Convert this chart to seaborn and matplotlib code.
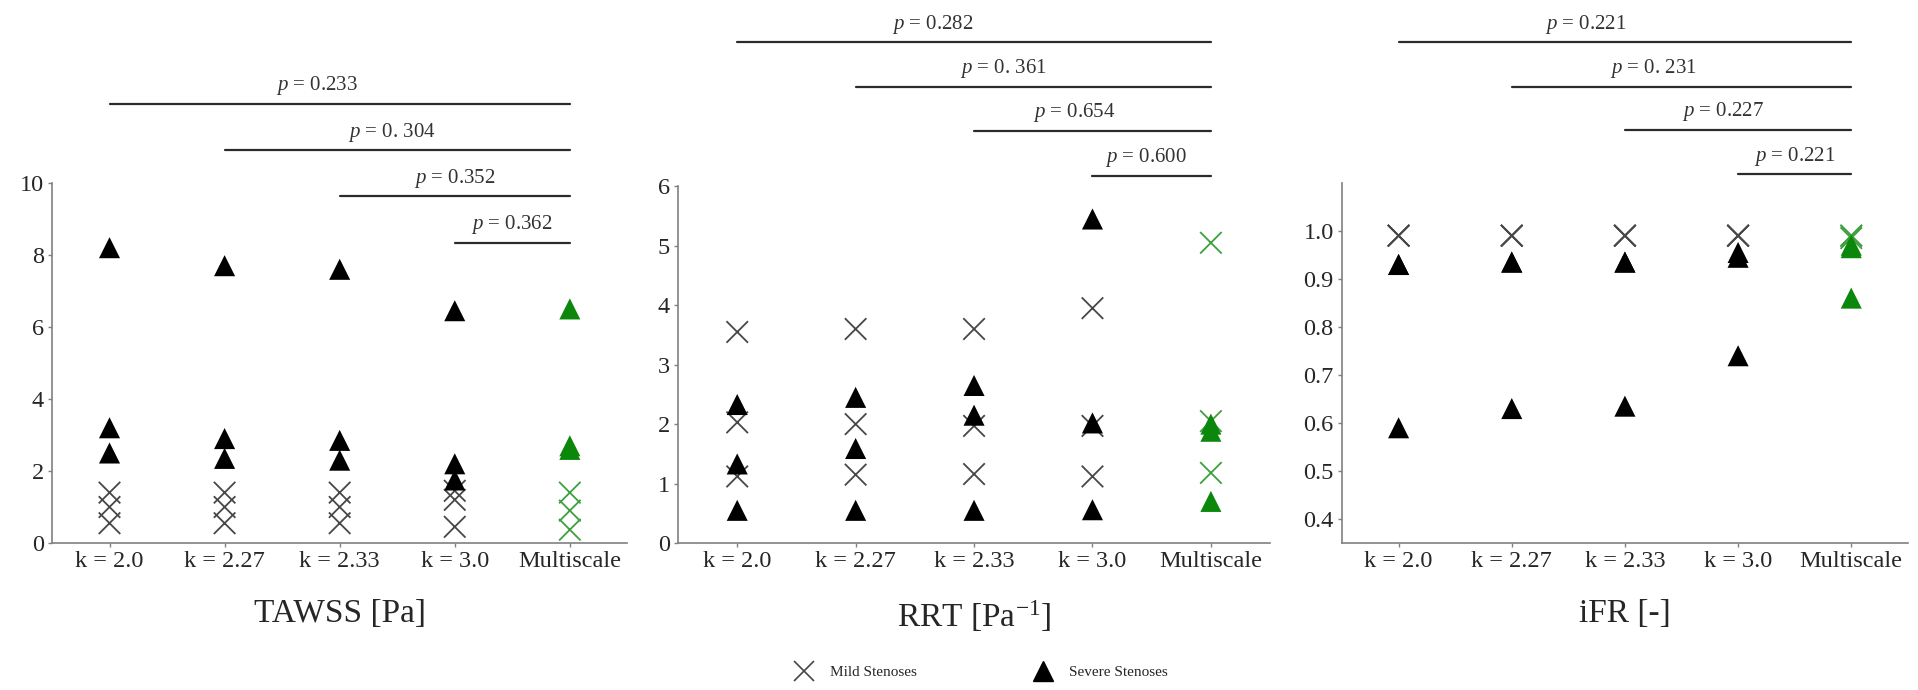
import numpy as np
import pandas as pd
import seaborn as sns
import matplotlib.pyplot as plt
from matplotlib.lines import Line2D

# Categories shared by all three panels
configs = ["k = 2.0", "k = 2.27", "k = 2.33", "k = 3.0", "Multiscale"]

# TAWSS [Pa]: three mild and three severe stenoses per configuration
tawss_mild = [[1.4, 1.0, 0.55], [1.4, 1.0, 0.55], [1.4, 1.0, 0.55],
              [1.45, 1.2, 0.45], [1.4, 0.9, 0.37]]
tawss_severe = [[8.2, 3.2, 2.5], [7.7, 2.9, 2.35], [7.6, 2.85, 2.3],
                [6.45, 2.2, 1.75], [6.5, 2.7, 2.6]]

# RRT [1/Pa]
rrt_mild = [[3.55, 2.03, 1.12], [3.6, 2.0, 1.15], [3.6, 1.97, 1.16],
            [3.95, 1.97, 1.12], [5.05, 2.05, 1.18]]
rrt_severe = [[2.33, 1.33, 0.55], [2.45, 1.59, 0.55], [2.65, 2.15, 0.55],
              [5.45, 2.02, 0.56], [2.0, 1.88, 0.7]]

# iFR [-]
ifr_mild = [[0.99, 0.99, 0.99], [0.99, 0.99, 0.99], [0.99, 0.99, 0.99],
            [0.99, 0.99, 0.99], [0.99, 0.99, 0.985]]
ifr_severe = [[0.93, 0.93, 0.59], [0.935, 0.935, 0.63], [0.935, 0.935, 0.635],
              [0.955, 0.945, 0.74], [0.97, 0.965, 0.86]]

# p-values of each configuration vs. Multiscale (text kept as printed)
tawss_p = ["0.233", "0. 304", "0.352", "0.362"]
rrt_p = ["0.282", "0. 361", "0.654", "0.600"]
ifr_p = ["0.221", "0. 231", "0.227", "0.221"]

metrics = ["TAWSS [Pa]", "RRT [Pa$^{-1}$]", "iFR [-]"]

rows = []
for metric, mild, severe in zip(metrics, [tawss_mild, rrt_mild, ifr_mild],
                                [tawss_severe, rrt_severe, ifr_severe]):
    for cfg, m_vals, s_vals in zip(configs, mild, severe):
        for v in m_vals:
            rows.append((metric, cfg, "Mild Stenoses", v))
        for v in s_vals:
            rows.append((metric, cfg, "Severe Stenoses", v))
df = pd.DataFrame(rows, columns=["metric", "config", "severity", "value"])
df["model"] = np.where(df["config"] == "Multiscale", "multi", "fixed")

sns.set_theme(style="ticks")
plt.rcParams["font.family"] = ["Liberation Serif", "DejaVu Serif"]
plt.rcParams["mathtext.fontset"] = "custom"
plt.rcParams["mathtext.rm"] = "Liberation Serif"
plt.rcParams["mathtext.it"] = "Liberation Serif:italic"

mild_pal = {"fixed": "#474747", "multi": "#3f9f3f"}
severe_pal = {"fixed": "#000000", "multi": "#0b870b"}

fig = plt.figure(figsize=(19.18, 6.9), dpi=100)
axes = [
    fig.add_axes([0.0271, 0.213, 0.300, 0.522]),
    fig.add_axes([0.3535, 0.213, 0.3087, 0.517]),
    fig.add_axes([0.6997, 0.213, 0.295, 0.522]),
]

ylims = [(0, 10), (0, 6), (0.35, 1.10)]
yticks = [np.arange(0, 11, 2), np.arange(0, 7, 1), np.arange(0.4, 1.01, 0.1)]
p_lists = [tawss_p, rrt_p, ifr_p]
bar_y = [[12.2, 10.9, 9.63, 8.34], [8.42, 7.67, 6.93, 6.18], [1.393, 1.30, 1.21, 1.118]]
label_x = [[1.8, 2.45, 3.0, 3.5], [1.65, 2.25, 2.85, 3.45], [1.65, 2.25, 2.87, 3.5]]

for k, (ax, metric) in enumerate(zip(axes, metrics)):
    sub = df[df["metric"] == metric]
    sns.scatterplot(data=sub[sub["severity"] == "Mild Stenoses"], x="config", y="value",
                    hue="model", palette=mild_pal, marker="x", s=240, linewidth=1.3,
                    legend=False, ax=ax, zorder=3)
    sns.scatterplot(data=sub[sub["severity"] == "Severe Stenoses"], x="config", y="value",
                    hue="model", palette=severe_pal, marker="^", s=230, linewidth=0,
                    legend=False, ax=ax, zorder=4)

    ax.set_xlim(-0.5, 4.5)
    ax.set_ylim(*ylims[k])
    ax.set_yticks(yticks[k])
    if k == 2:
        ax.set_yticklabels([f"{t:.1f}" for t in yticks[k]])
    ax.set_xlabel(metric, fontsize=24, labelpad=19)
    ax.set_ylabel("")
    ax.tick_params(axis="both", labelsize=17.5, length=3, width=1, color="#808080", pad=3)
    for side in ["top", "right"]:
        ax.spines[side].set_visible(False)
    for side in ["left", "bottom"]:
        ax.spines[side].set_color("#808080")
        ax.spines[side].set_linewidth(1.2)

    # significance bars, each configuration against Multiscale
    for i, (p, y, lx) in enumerate(zip(p_lists[k], bar_y[k], label_x[k])):
        ax.plot([i, 4], [y, y], color="#2b2b2b", lw=1.6, clip_on=False)
        ax.annotate(f"$p$ = {p}", xy=(lx, y), xytext=(0, 13), textcoords="offset points",
                    ha="center", va="center", fontsize=15, color="#333333",
                    annotation_clip=False)

handles = [
    Line2D([], [], marker="x", color="#474747", linestyle="none", markersize=14,
           markeredgewidth=1.2, label="Mild Stenoses"),
    Line2D([], [], marker="^", color="#000000", linestyle="none", markersize=14,
           label="Severe Stenoses"),
]
fig.legend(handles=handles, loc="center", bbox_to_anchor=(0.510, 0.026), ncol=2,
           frameon=False, fontsize=11, columnspacing=7.3, handletextpad=0.7)

plt.savefig("out.png", dpi=100)
